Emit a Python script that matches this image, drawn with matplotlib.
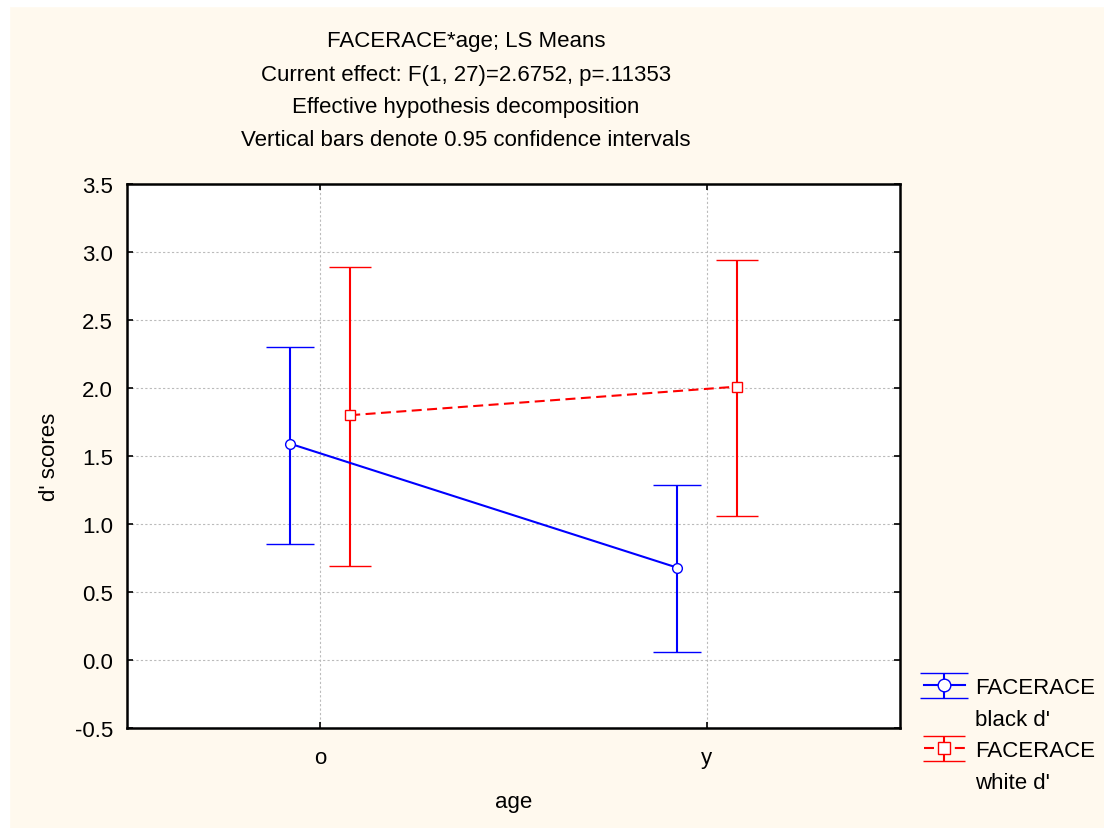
import matplotlib
matplotlib.use("Agg")
import matplotlib.pyplot as plt
import numpy as np
from matplotlib.patches import Rectangle
from matplotlib.legend_handler import HandlerErrorbar
from matplotlib.container import ErrorbarContainer
from matplotlib.lines import Line2D

plt.rcParams['font.family'] = ['Liberation Sans', 'DejaVu Sans']

ages = ['o', 'y']
black_mean = [1.59, 0.68]
black_lo = [0.85, 0.06]
black_hi = [2.30, 1.29]
white_mean = [1.80, 2.01]
white_lo = [0.69, 1.06]
white_hi = [2.89, 2.94]
series_names = ["FACERACE", "FACERACE"]
series_sub = ["black d'", "white d'"]
title_lines = ["FACERACE*age; LS Means",
               "Current effect: F(1, 27)=2.6752, p=.11353",
               "Effective hypothesis decomposition",
               "Vertical bars denote 0.95 confidence intervals"]

FS = 16
W, H = 1104, 829
cream = '#FFF9EE'
fig = plt.figure(figsize=(W / 100, H / 100), dpi=100, facecolor=cream)
fig.patches.append(Rectangle((0, 0), 9 / W, 1, transform=fig.transFigure, color='white', zorder=-10))
fig.patches.append(Rectangle((0, 1 - 7 / H), 1, 7 / H, transform=fig.transFigure, color='white', zorder=-10))

L, R, T, B = 127, 900, 185, 729
ax = fig.add_axes([L / W, 1 - B / H, (R - L) / W, (B - T) / H])
ax.set_facecolor('white')

x = np.arange(len(ages))
off = 0.0775
bm = np.array(black_mean); wm = np.array(white_mean)
berr = [bm - np.array(black_lo), np.array(black_hi) - bm]
werr = [wm - np.array(white_lo), np.array(white_hi) - wm]

cap = 17
eb1 = ax.errorbar(x - off, bm, yerr=berr, color='#0000FF', lw=1.5, elinewidth=1.5,
                  capsize=cap, capthick=1.5, marker='o', markersize=7,
                  markerfacecolor='white', markeredgecolor='#0000FF', markeredgewidth=1.0,
                  zorder=3)
eb2 = ax.errorbar(x + off, wm, yerr=werr, color='#FF0000', lw=1.5, elinewidth=1.5,
                  capsize=cap * 0.9, capthick=1.5, marker='s', markersize=7,
                  markerfacecolor='white', markeredgecolor='#FF0000', markeredgewidth=1.0,
                  zorder=3)
eb2.lines[0].set_dashes((4.8, 2.6))

ax.set_xlim(-0.5, 1.5)
ax.set_ylim(-0.5, 3.5)
yt = np.arange(-0.5, 3.51, 0.5)
ax.set_yticks(yt)
ax.set_yticklabels([f"{v:.1f}" for v in yt])
ax.set_xticks(x)
ax.set_xticklabels(ages)
ax.grid(True, color='#BBBBBB', linestyle=(0, (2, 2)), linewidth=0.8)
ax.set_axisbelow(True)
ax.tick_params(direction='in', length=4, width=1.2, top=True, right=True,
               labelsize=FS, pad=10)
ax.tick_params(axis='x', pad=14)
for s in ax.spines.values():
    s.set_linewidth(1.8)
    s.set_color('black')

ax.set_xlabel('age', fontsize=FS, labelpad=16)
ax.set_ylabel("d' scores", fontsize=FS, labelpad=11)

for i, t in enumerate(title_lines):
    fig.text(466 / W, 1 - (42 + 33 * i) / H, t, ha='center', va='center', fontsize=FS)

blank = Line2D([], [], color='none')
leg = fig.legend(handles=[eb1, blank, eb2, blank],
                 labels=[series_names[0], series_sub[0], series_names[1], series_sub[1]],
                 loc='upper left',
                 bbox_to_anchor=(915 / W, 1 - 669 / H), frameon=False,
                 fontsize=FS, handlelength=1.85, handletextpad=0.45,
                 labelspacing=0.48, borderaxespad=0, markerscale=1.3,
                 handler_map={ErrorbarContainer: HandlerErrorbar(yerr_size=0.56)})

fig.savefig('out.png', dpi=100, facecolor=cream)
